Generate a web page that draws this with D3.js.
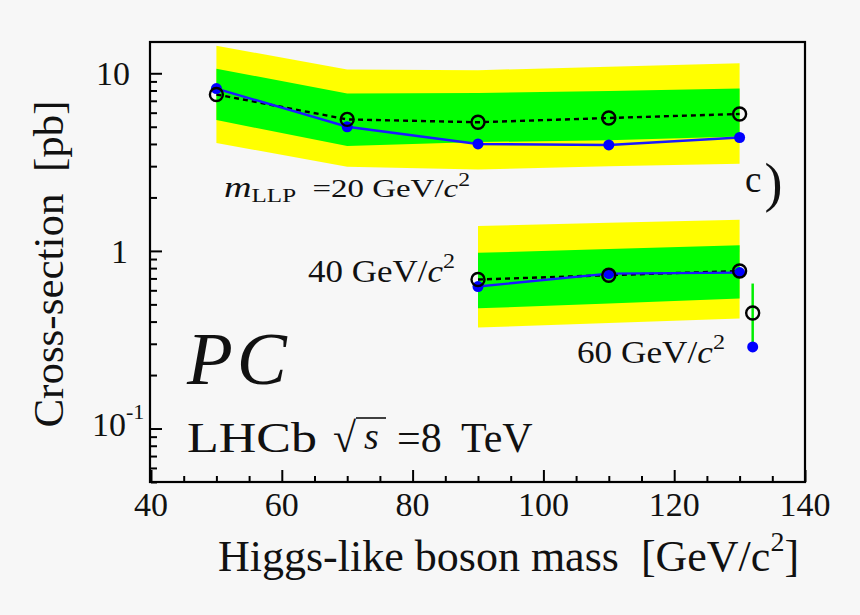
<!DOCTYPE html>
<html>
<head>
<meta charset="utf-8">
<script src="https://cdn.jsdelivr.net/npm/d3@7"></script>
<style>
  html, body { margin: 0; padding: 0; background: #f7f7f7; }
  svg { display: block; }
  text { font-family: "Liberation Serif", "DejaVu Serif", serif; fill: #111; white-space: pre; }
</style>
</head>
<body>
<svg id="chart" width="860" height="615"></svg>
<script>
// ---- data ----
const masses20 = [50, 70, 90, 110, 130];
const obs20    = [8.2, 5.0, 4.0, 3.95, 4.35];
const exp20    = [7.6, 5.5, 5.3, 5.6, 5.9];
const up2_20   = [14.3, 10.5, 10.4, 10.9, 11.4];
const up1_20   = [10.6, 7.7, 7.75, 7.95, 8.2];
const dn1_20   = [5.45, 3.9, 4.1, 4.2, 4.4];
const dn2_20   = [4.05, 2.98, 2.87, 3.0, 3.1];

const masses40 = [90, 110, 130];
const obs40    = [0.63, 0.745, 0.755];
const exp40    = [0.69, 0.73, 0.77];
const up2_40   = [1.38, 1.44, 1.50];
const up1_40   = [0.975, 1.025, 1.075];
const dn1_40   = [0.475, 0.505, 0.54];
const dn2_40   = [0.37, 0.393, 0.416];

const masses60 = [132];
const obs60    = [0.288];
const exp60    = [0.447];
const up1_60   = [0.655];
const dn1_60   = [0.30];

const xTickLabels = [40, 60, 80, 100, 120, 140];
const yMajorTicks = [0.1, 1, 10];

// ---- layout ----
const L = 151, R = 805, T = 42, B = 482;
const svg = d3.select("#chart");
const x = d3.scaleLinear().domain([40, 140]).range([L, R]);
const y = d3.scaleLog().domain([0.05, 15]).range([B, T]);

function band(ms, lo, hi, color) {
  const d = ms.map((m, i) => ({ m, lo: lo[i], hi: hi[i] }));
  svg.append("path").datum(d)
    .attr("fill", color)
    .attr("d", d3.area().x(p => x(p.m)).y0(p => y(p.lo)).y1(p => y(p.hi)));
}
function line(ms, vals, color, dash) {
  const d = ms.map((m, i) => ({ m, v: vals[i] }));
  svg.append("path").datum(d)
    .attr("fill", "none").attr("stroke", color).attr("stroke-width", 2.4)
    .attr("stroke-dasharray", dash || null)
    .attr("d", d3.line().x(p => x(p.m)).y(p => y(p.v)));
}
function blueDots(ms, vals) {
  svg.append("g").selectAll("circle").data(ms.map((m, i) => ({ m, v: vals[i] })))
    .join("circle").attr("cx", p => x(p.m)).attr("cy", p => y(p.v))
    .attr("r", 5.5).attr("fill", "#0000ff");
}
function openDots(ms, vals) {
  svg.append("g").selectAll("circle").data(ms.map((m, i) => ({ m, v: vals[i] })))
    .join("circle").attr("cx", p => x(p.m)).attr("cy", p => y(p.v))
    .attr("r", 6.5).attr("fill", "none").attr("stroke", "#000").attr("stroke-width", 2.4);
}

// bands
band(masses20, dn2_20, up2_20, "#ffff00");
band(masses20, dn1_20, up1_20, "#00ff00");
band(masses40, dn2_40, up2_40, "#ffff00");
band(masses40, dn1_40, up1_40, "#00ff00");
// 60 GeV: degenerate band, drawn as a vertical segment
svg.append("g").selectAll("line").data(masses60.map((m, i) => ({ m, lo: dn1_60[i], hi: up1_60[i] })))
  .join("line").attr("x1", p => x(p.m)).attr("x2", p => x(p.m))
  .attr("y1", p => y(p.lo)).attr("y2", p => y(p.hi))
  .attr("stroke", "#00ee00").attr("stroke-width", 2.5);

// lines
line(masses20, exp20, "#000", "5,4");
line(masses20, obs20, "#1a1aff");
line(masses40, exp40, "#000", "5,4");
line(masses40, obs40, "#1a1aff");

blueDots(masses20, obs20);
blueDots(masses40, obs40);
blueDots(masses60, obs60);
openDots(masses20, exp20);
openDots(masses40, exp40);
openDots(masses60, exp60);

// ---- axes ----
const yMinor = [];
[0.01, 0.1, 1, 10].forEach(dec => { for (let k = 1; k <= 9; k++) { const v = dec * k; if (v >= 0.05 && v <= 15) yMinor.push(v); } });
const yMinorOnly = yMinor.filter(v => !yMajorTicks.some(t => Math.abs(t - v) < 1e-9));
svg.append("g").attr("transform", `translate(${L},0)`)
  .call(d3.axisRight(y).tickValues(yMajorTicks).tickSize(11).tickFormat(""))
  .call(g => g.select(".domain").remove())
  .call(g => g.selectAll("line").attr("stroke", "#000").attr("stroke-width", 2));
svg.append("g").attr("transform", `translate(${L},0)`)
  .call(d3.axisRight(y).tickValues(yMinorOnly).tickSize(6).tickFormat(""))
  .call(g => g.select(".domain").remove())
  .call(g => g.selectAll("line").attr("stroke", "#000").attr("stroke-width", 2));

const xMinor = d3.range(45, 140, 5).filter(v => v % 20 !== 0);
svg.append("g").attr("transform", `translate(0,${B})`)
  .call(d3.axisTop(x).tickValues(xTickLabels).tickSize(12).tickFormat(""))
  .call(g => g.select(".domain").remove())
  .call(g => g.selectAll("line").attr("stroke", "#000").attr("stroke-width", 2));
svg.append("g").attr("transform", `translate(0,${B})`)
  .call(d3.axisTop(x).tickValues(xMinor).tickSize(6).tickFormat(""))
  .call(g => g.select(".domain").remove())
  .call(g => g.selectAll("line").attr("stroke", "#000").attr("stroke-width", 2));

// frame
svg.append("rect").attr("x", L - 1).attr("y", T).attr("width", R - L + 1).attr("height", B - T)
  .attr("fill", "none").attr("stroke", "#000").attr("stroke-width", 2.2);

// tick labels
svg.append("g").selectAll("text").data(xTickLabels).join("text")
  .attr("x", d => x(d)).attr("y", 516).attr("text-anchor", "middle")
  .attr("font-size", 34).text(d => d);

const yl = svg.append("g");
yl.append("text").attr("x", 130).attr("y", y(10) + 12).attr("text-anchor", "end").attr("font-size", 34).text("10");
yl.append("text").attr("x", 128).attr("y", y(1) + 12).attr("text-anchor", "end").attr("font-size", 34).text("1");
const t01 = yl.append("text").attr("x", 92).attr("y", y(0.1) + 7).attr("font-size", 34);
t01.append("tspan").text("10");
t01.append("tspan").attr("font-size", 22).attr("dy", -17).text("-1");

// axis titles
svg.append("text").attr("transform", "translate(63,264) rotate(-90)")
  .attr("text-anchor", "middle").attr("font-size", 43).text("Cross-section  [pb]");
const xt = svg.append("text").attr("x", 218).attr("y", 571).attr("font-size", 44);
xt.append("tspan").text("Higgs-like boson mass  [GeV/c");
xt.append("tspan").attr("font-size", 28).attr("dy", -20).text("2");
xt.append("tspan").attr("dy", 20).text("]");

// annotations
const a20 = svg.append("text").attr("x", 224).attr("y", 197).attr("font-size", 25)
  .attr("textLength", 246).attr("lengthAdjust", "spacingAndGlyphs");
a20.append("tspan").attr("font-style", "italic").attr("font-size", 29).text("m");
a20.append("tspan").attr("font-size", 19).attr("dy", 5).text("LLP");
a20.append("tspan").attr("dy", -5).text("  =20 GeV/");
a20.append("tspan").attr("font-style", "italic").text("c");
a20.append("tspan").attr("font-size", 18).attr("dy", -11).text("2");

const a40 = svg.append("text").attr("x", 308).attr("y", 282).attr("font-size", 32)
  .attr("textLength", 147).attr("lengthAdjust", "spacingAndGlyphs");
a40.append("tspan").text("40 GeV/");
a40.append("tspan").attr("font-style", "italic").text("c");
a40.append("tspan").attr("font-size", 22).attr("dy", -14).text("2");

const a60 = svg.append("text").attr("x", 577).attr("y", 363).attr("font-size", 32)
  .attr("textLength", 148).attr("lengthAdjust", "spacingAndGlyphs");
a60.append("tspan").text("60 GeV/");
a60.append("tspan").attr("font-style", "italic").text("c");
a60.append("tspan").attr("font-size", 22).attr("dy", -14).text("2");

const cl = svg.append("text").attr("x", 745).attr("y", 192).attr("font-size", 37);
cl.append("tspan").text("c");
cl.append("tspan").attr("font-size", 54).attr("dy", 9).attr("dx", 3).text(")");

svg.append("text").attr("x", 187).attr("y", 384).attr("font-size", 75)
  .attr("font-style", "italic").attr("letter-spacing", 4).text("PC");

svg.append("text").attr("x", 187).attr("y", 452).attr("font-size", 42)
  .attr("textLength", 130).attr("lengthAdjust", "spacingAndGlyphs").text("LHCb");
svg.append("text").attr("x", 333).attr("y", 452).attr("font-size", 42).attr("font-family", "DejaVu Serif").text("√");
svg.append("line").attr("x1", 356).attr("x2", 386).attr("y1", 418).attr("y2", 418).attr("stroke", "#111").attr("stroke-width", 1.6);
svg.append("text").attr("x", 364).attr("y", 449).attr("font-size", 38).attr("font-style", "italic").text("s");
svg.append("text").attr("x", 397).attr("y", 452).attr("font-size", 42).text("=8");
svg.append("text").attr("x", 461).attr("y", 452).attr("font-size", 42).text("TeV");
</script>
</body>
</html>
